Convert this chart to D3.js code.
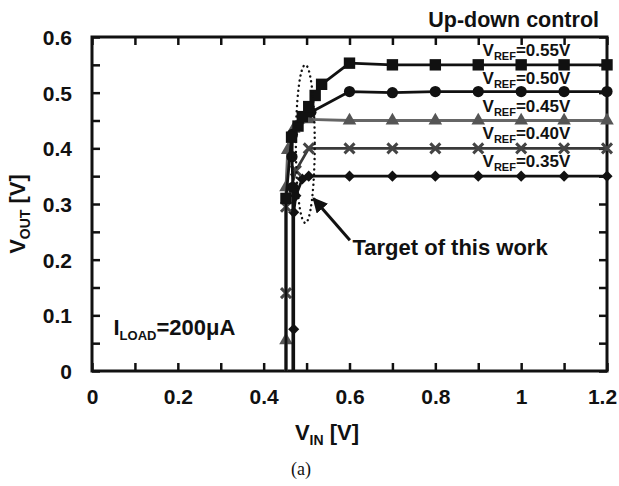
<!DOCTYPE html>
<html>
<head>
<meta charset="utf-8">
<script src="https://cdn.jsdelivr.net/npm/d3@7"></script>
<style>
  body { margin: 0; background: #fff; }
  text { font-family: "Liberation Sans", Arial, sans-serif; font-weight: bold; fill: #111; }
</style>
</head>
<body>
<div id="chart"></div>
<script>
// tick values
const xTicks = [0, 0.1, 0.2, 0.3, 0.4, 0.5, 0.6, 0.7, 0.8, 0.9, 1.0, 1.1, 1.2];
const xLabels = [0, 0.2, 0.4, 0.6, 0.8, 1, 1.2];
const yTicks = [0, 0.05, 0.1, 0.15, 0.2, 0.25, 0.3, 0.35, 0.4, 0.45, 0.5, 0.55, 0.6];
const yLabels = [0, 0.1, 0.2, 0.3, 0.4, 0.5, 0.6];

// measured curves, one per VREF
const vinSq   = [0.452, 0.452, 0.465, 0.48, 0.49, 0.505, 0.52, 0.535, 0.6, 0.7, 0.8, 0.9, 1.0, 1.1, 1.2];
const voutSq  = [0, 0.31, 0.42, 0.44, 0.457, 0.475, 0.495, 0.515, 0.553, 0.55, 0.55, 0.55, 0.55, 0.55, 0.55];
const vinCi   = [0.468, 0.468, 0.466, 0.467, 0.51, 0.6, 0.7, 0.8, 0.9, 1.0, 1.1, 1.2];
const voutCi  = [0, 0.33, 0.385, 0.425, 0.465, 0.502, 0.5, 0.502, 0.502, 0.502, 0.502, 0.502];
const vinTr   = [0.452, 0.452, 0.452, 0.456, 0.47, 0.505, 0.6, 0.7, 0.8, 0.9, 1.0, 1.1, 1.2];
const voutTr  = [0, 0.055, 0.33, 0.397, 0.435, 0.452, 0.45, 0.45, 0.45, 0.45, 0.45, 0.45, 0.45];
const vinX    = [0.452, 0.452, 0.452, 0.475, 0.505, 0.6, 0.7, 0.8, 0.9, 1.0, 1.1, 1.2];
const voutX   = [0, 0.14, 0.295, 0.36, 0.4, 0.4, 0.4, 0.4, 0.4, 0.4, 0.4, 0.4];
const vinDi   = [0.47, 0.47, 0.47, 0.475, 0.49, 0.505, 0.6, 0.7, 0.8, 0.9, 1.0, 1.1, 1.2];
const voutDi  = [0, 0.075, 0.285, 0.315, 0.345, 0.35, 0.35, 0.35, 0.35, 0.35, 0.35, 0.35, 0.35];

const vrefLabels = ["0.35", "0.40", "0.45", "0.50", "0.55"];
const vrefLevels = [0.35, 0.40, 0.45, 0.50, 0.55];

const series = [
  { name: "0.35", vin: vinDi, vout: voutDi, marker: "diamond", line: "#111", fill: "#111" },
  { name: "0.40", vin: vinX,  vout: voutX,  marker: "x",       line: "#3a3a3a", fill: "#444" },
  { name: "0.45", vin: vinTr, vout: voutTr, marker: "triangle", line: "#666", fill: "#555" },
  { name: "0.50", vin: vinCi, vout: voutCi, marker: "circle",  line: "#111", fill: "#111" },
  { name: "0.55", vin: vinSq, vout: voutSq, marker: "square",  line: "#111", fill: "#111" }
];

const W = 619, H = 486;
const margin = { top: 37, right: 12, bottom: 115, left: 92 };
const width = W - margin.left - margin.right;
const height = H - margin.top - margin.bottom;

const svg = d3.select("#chart").append("svg")
  .attr("width", W).attr("height", H);

const g = svg.append("g").attr("transform", `translate(${margin.left},${margin.top})`);

const x = d3.scaleLinear().domain([0, 1.2]).range([0, width]);
const y = d3.scaleLinear().domain([0, 0.6]).range([height, 0]);

//axes with inward ticks on all four sides
const fmt = d => xLabels.includes(+d.toFixed(2)) ? d3.format("~g")(d) : "";
const fmtY = d => yLabels.includes(+d.toFixed(2)) ? d3.format("~g")(d) : "";

const xAxis = g.append("g").attr("transform", `translate(0,${height})`)
  .call(d3.axisBottom(x).tickValues(xTicks).tickSize(-8).tickPadding(18).tickFormat(fmt));
g.append("g").call(d3.axisTop(x).tickValues(xTicks).tickSize(-8).tickFormat(""));
const yAxis = g.append("g")
  .call(d3.axisLeft(y).tickValues(yTicks).tickSize(-8).tickPadding(20).tickFormat(fmtY));
g.append("g").attr("transform", `translate(${width},0)`)
  .call(d3.axisRight(y).tickValues(yTicks).tickSize(-8).tickFormat(""));

g.selectAll(".domain").remove();
g.selectAll(".tick line").attr("stroke", "#111").attr("stroke-width", 2.5);
g.selectAll(".tick text").style("font-size", "21px").attr("fill", "#111");
xAxis.selectAll(".tick text").attr("dy", "0.71em")
  .filter(d => d === 1.2).attr("dx", -5);
yAxis.selectAll(".tick text").attr("dy", "0.36em");

g.append("rect")
  .attr("width", width).attr("height", height)
  .attr("fill", "none").attr("stroke", "#111").attr("stroke-width", 3);

// curves
const line = d3.line().x(d => x(d[0])).y(d => y(d[1]));

series.forEach(s => {
  const pts = s.vin.map((v, i) => [v, s.vout[i]]);
  g.append("path")
    .attr("d", line(pts))
    .attr("fill", "none")
    .attr("stroke", s.line)
    .attr("stroke-width", 2.8)
    .attr("stroke-linejoin", "round");

  const m = g.append("g").selectAll("g")
    .data(pts.filter(p => p[1] > 0))
    .join("g")
    .attr("transform", d => `translate(${x(d[0])},${y(d[1])})`);

  if (s.marker === "square") {
    m.append("path").attr("d", d3.symbol(d3.symbolSquare, 130)()).attr("fill", s.fill);
  } else if (s.marker === "circle") {
    m.append("circle").attr("r", 5.6).attr("fill", s.fill);
  } else if (s.marker === "triangle") {
    m.append("path").attr("d", d3.symbol(d3.symbolTriangle, 80)()).attr("fill", s.fill);
  } else if (s.marker === "diamond") {
    m.append("path").attr("d", d3.symbol(d3.symbolSquare, 62)())
      .attr("transform", "rotate(45)").attr("fill", s.fill);
  } else {
    m.append("path").attr("d", "M-5,-5L5,5M-5,5L5,-5")
      .attr("stroke", s.fill).attr("stroke-width", 3).attr("fill", "none");
  }
});

// VREF labels above each flat level
const vl = g.append("g").selectAll("text")
  .data(vrefLabels)
  .join("text")
  .attr("x", x(0.91))
  .attr("y", (d, i) => y(vrefLevels[i]) - 9)
  .style("font-size", "17px");
vl.append("tspan").text("V");
vl.append("tspan").text("REF").style("font-size", "11px").attr("dy", 4);
vl.append("tspan").text(d => `=${d}V`).attr("dy", -4);

// dotted ellipse around target region
g.append("ellipse")
  .attr("cx", x(0.497)).attr("cy", y(0.408))
  .attr("rx", x(0.022) - x(0)).attr("ry", y(0) - y(0.142))
  .attr("fill", "none").attr("stroke", "#111")
  .attr("stroke-width", 2.4).attr("stroke-linecap", "round")
  .attr("stroke-dasharray", "0.1 5");

// arrow to the ellipse
svg.append("defs").append("marker")
  .attr("id", "head").attr("viewBox", "0 0 10 10")
  .attr("refX", 9).attr("refY", 5)
  .attr("markerWidth", 5).attr("markerHeight", 5)
  .attr("orient", "auto")
  .append("path").attr("d", "M0,0L10,5L0,10z").attr("fill", "#111");

g.append("line")
  .attr("x1", x(0.601)).attr("y1", y(0.235))
  .attr("x2", x(0.516)).attr("y2", y(0.31))
  .attr("stroke", "#111").attr("stroke-width", 3)
  .attr("marker-end", "url(#head)");

g.append("text")
  .attr("x", x(0.607)).attr("y", y(0.208))
  .style("font-size", "22px")
  .text("Target of this work");

// load current label
const il = g.append("text")
  .attr("x", x(0.05)).attr("y", y(0.065))
  .style("font-size", "22px");
il.append("tspan").text("I");
il.append("tspan").text("LOAD").style("font-size", "13px").attr("dy", 5);
il.append("tspan").text("=200μA").attr("dy", -5);

// titles
svg.append("text")
  .attr("x", 599).attr("y", 27)
  .attr("text-anchor", "end")
  .style("font-size", "21.5px").attr("fill", "#222")
  .text("Up-down control");

const xt = svg.append("text")
  .attr("x", 327).attr("y", 440)
  .attr("text-anchor", "middle")
  .style("font-size", "22px");
xt.append("tspan").text("V");
xt.append("tspan").text("IN").style("font-size", "14px").attr("dy", 5);
xt.append("tspan").text(" [V]").attr("dy", -5);

const yt = svg.append("text")
  .attr("transform", "translate(25,214) rotate(-90)")
  .attr("text-anchor", "middle")
  .style("font-size", "22px");
yt.append("tspan").text("V");
yt.append("tspan").text("OUT").style("font-size", "14px").attr("dy", 5);
yt.append("tspan").text(" [V]").attr("dy", -5);

svg.append("text")
  .attr("x", 301).attr("y", 475)
  .attr("text-anchor", "middle")
  .style("font-family", "'Liberation Serif', 'Times New Roman', serif")
  .style("font-weight", "normal")
  .style("font-size", "18px")
  .text("(a)");
</script>
</body>
</html>
